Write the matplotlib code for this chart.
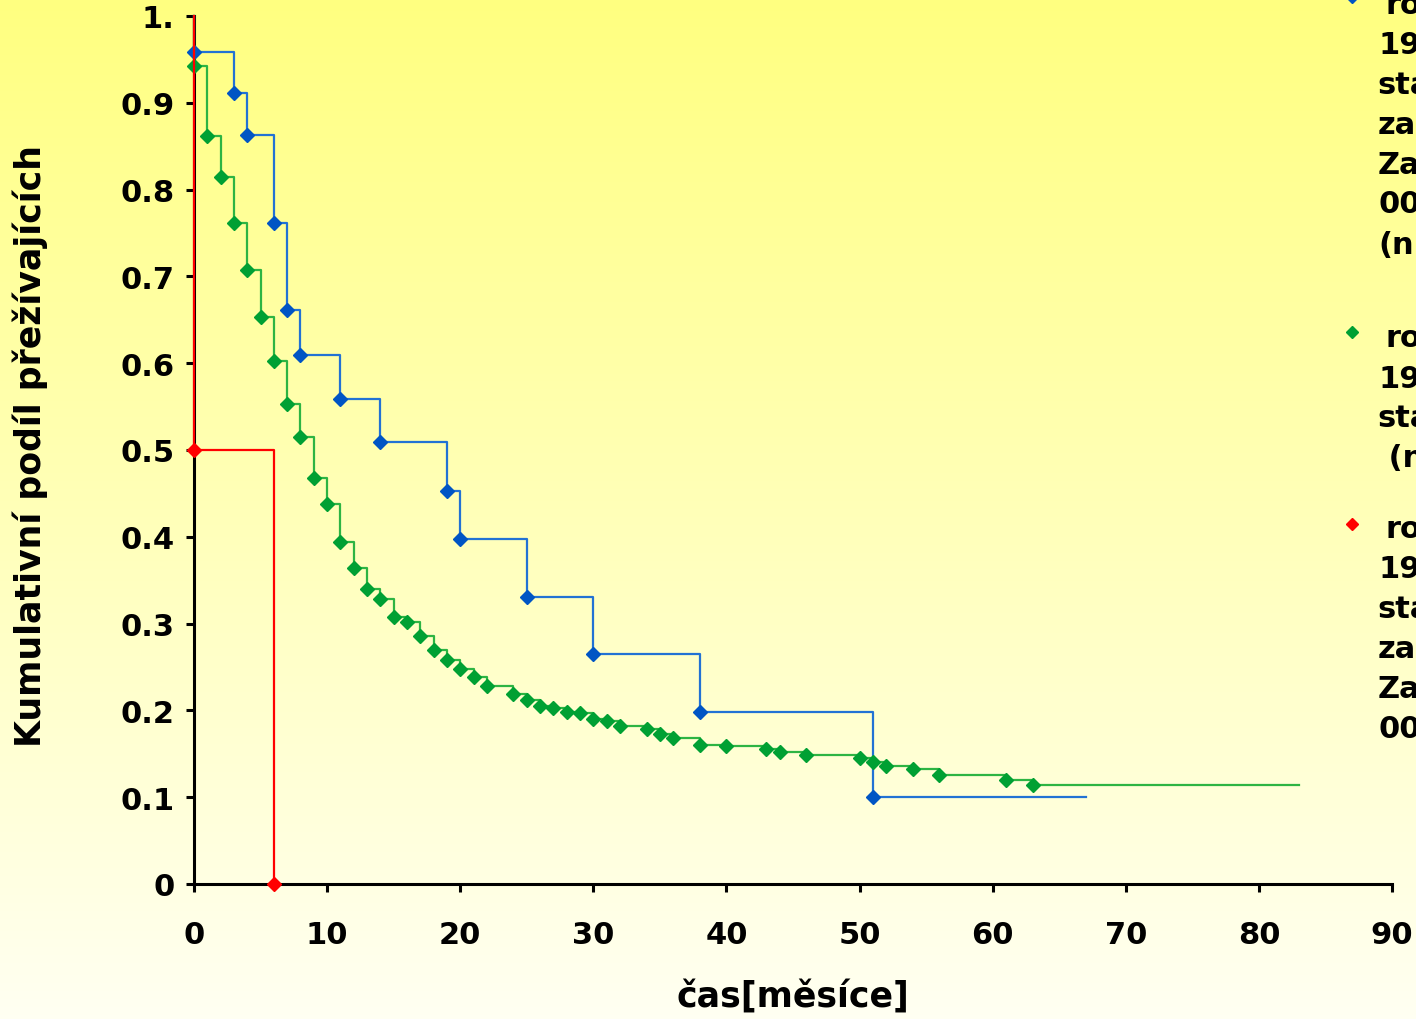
import numpy as np
import matplotlib
matplotlib.use("Agg")
import matplotlib.pyplot as plt
from matplotlib.colors import LinearSegmentedColormap

# === Data ===
blue_times = [0, 3, 4, 6, 7, 8, 11, 14, 19, 20, 25, 30, 38, 51]
blue_surv = [0.958, 0.911, 0.863, 0.761, 0.661, 0.609, 0.559, 0.509,
             0.453, 0.397, 0.331, 0.265, 0.198, 0.100]
blue_end = 67

green_times = [0, 1, 2, 3, 4, 5, 6, 7, 8, 9, 10, 11, 12, 13, 14, 15, 16, 17,
               18, 19, 20, 21, 22, 24, 25, 26, 27, 28, 29, 30, 31, 32, 34, 35,
               36, 38, 40, 43, 44, 46, 50, 51, 52, 54, 56, 61, 63]
green_surv = [0.942, 0.862, 0.815, 0.761, 0.707, 0.653, 0.603, 0.553, 0.515,
              0.468, 0.438, 0.394, 0.364, 0.340, 0.328, 0.308, 0.302, 0.286,
              0.270, 0.258, 0.248, 0.238, 0.228, 0.219, 0.212, 0.205, 0.203,
              0.198, 0.197, 0.190, 0.188, 0.182, 0.178, 0.173, 0.168, 0.160,
              0.159, 0.155, 0.152, 0.149, 0.145, 0.141, 0.136, 0.132, 0.126,
              0.120, 0.114]
green_end = 83

red_times = [0, 6]
red_surv = [0.5, 0.0]
red_end = 6

y_ticks = [0, 0.1, 0.2, 0.3, 0.4, 0.5, 0.6, 0.7, 0.8, 0.9, 1.0]
y_tick_labels = ["0", "0.1", "0.2", "0.3", "0.4", "0.5", "0.6", "0.7", "0.8", "0.9", "1."]
x_ticks = list(range(0, 91, 10))

# legend fragments visible at the right edge of the picture
legend_blue = ["ro", "19", "sta", "za", "Za", "00", "(n"]
legend_green = ["ro", "19", "sta", " (n"]
legend_red = ["ro", "19", "sta", "za", "Za", "00"]

plt.rcParams['font.family'] = ['DejaVu Sans']
plt.rcParams['font.weight'] = 'bold'

W, H = 1416, 1020
fig = plt.figure(figsize=(W / 100, H / 100), dpi=100)

# yellow gradient background
bg = fig.add_axes([0, 0, 1, 1], zorder=-10)
grad = np.linspace(0, 1, 256).reshape(-1, 1)
cmap = LinearSegmentedColormap.from_list("bg", ["#ffff80", "#ffffb8", "#fffff2"])
bg.imshow(grad, aspect='auto', cmap=cmap, extent=[0, 1, 0, 1], origin='upper')
bg.axis('off')

ax = fig.add_axes([194 / W, 1 - 885 / H, (1392 - 194) / W, (885 - 17) / H])
ax.patch.set_alpha(0)


def km_curve(times, surv, end, line_c, mark_c, z):
    tx = [0] + list(times) + [end]
    sy = [1.0] + list(surv) + [surv[-1]]
    ax.step(tx, sy, where='post', color=line_c, lw=1.6, zorder=z, clip_on=False)
    ax.plot(times, surv, linestyle='none', marker='D', ms=7.5, color=mark_c,
            mec=mark_c, zorder=z + 0.5, clip_on=False)


km_curve(blue_times, blue_surv, blue_end, '#2272d4', '#0055c4', 3)
km_curve(green_times, green_surv, green_end, '#2db443', '#00a033', 4)
km_curve(red_times, red_surv, red_end, '#ff0000', '#ff0000', 5)

ax.set_xlim(0, 90)
ax.set_ylim(0, 1)
ax.set_xticks(x_ticks)
ax.set_yticks(y_ticks)
ax.set_yticklabels(y_tick_labels)
for s in ['top', 'right']:
    ax.spines[s].set_visible(False)
for s in ['left', 'bottom']:
    ax.spines[s].set_linewidth(2.2)
    ax.spines[s].set_color('black')
ax.tick_params(axis='both', direction='out', length=6, width=2.2, labelsize=22)
ax.tick_params(axis='x', pad=20)
ax.tick_params(axis='y', pad=8)

fig.text(793 / W, 1 - 997 / H, "čas[měsíce]", ha='center', va='center',
         fontsize=25, fontweight='bold')
fig.text(30 / W, 1 - 446 / H, "Kumulativní podíl přežívajících", ha='center',
         va='center', rotation=90, fontsize=25, fontweight='bold')

# truncated legend at the right edge
def legend_block(marker_y, lines, first_y, color, xs):
    fig.add_artist(plt.Line2D([1352 / W], [1 - marker_y / H], marker='D', ms=6,
                              color=color, linestyle='none'))
    for i, txt in enumerate(lines):
        fig.text(xs[i] / W, 1 - (first_y + 40 * i) / H, txt, ha='left',
                 va='center', fontsize=22, fontweight='bold')


legend_block(-2, legend_blue, 5, '#0055c4', [1386, 1378, 1377, 1378, 1378, 1378, 1378])
legend_block(333, legend_green, 339, '#00a033', [1386, 1378, 1377, 1378])
legend_block(525, legend_red, 530, '#ff0000', [1386, 1378, 1377, 1378, 1378, 1378])

fig.savefig("out.png", dpi=100)
